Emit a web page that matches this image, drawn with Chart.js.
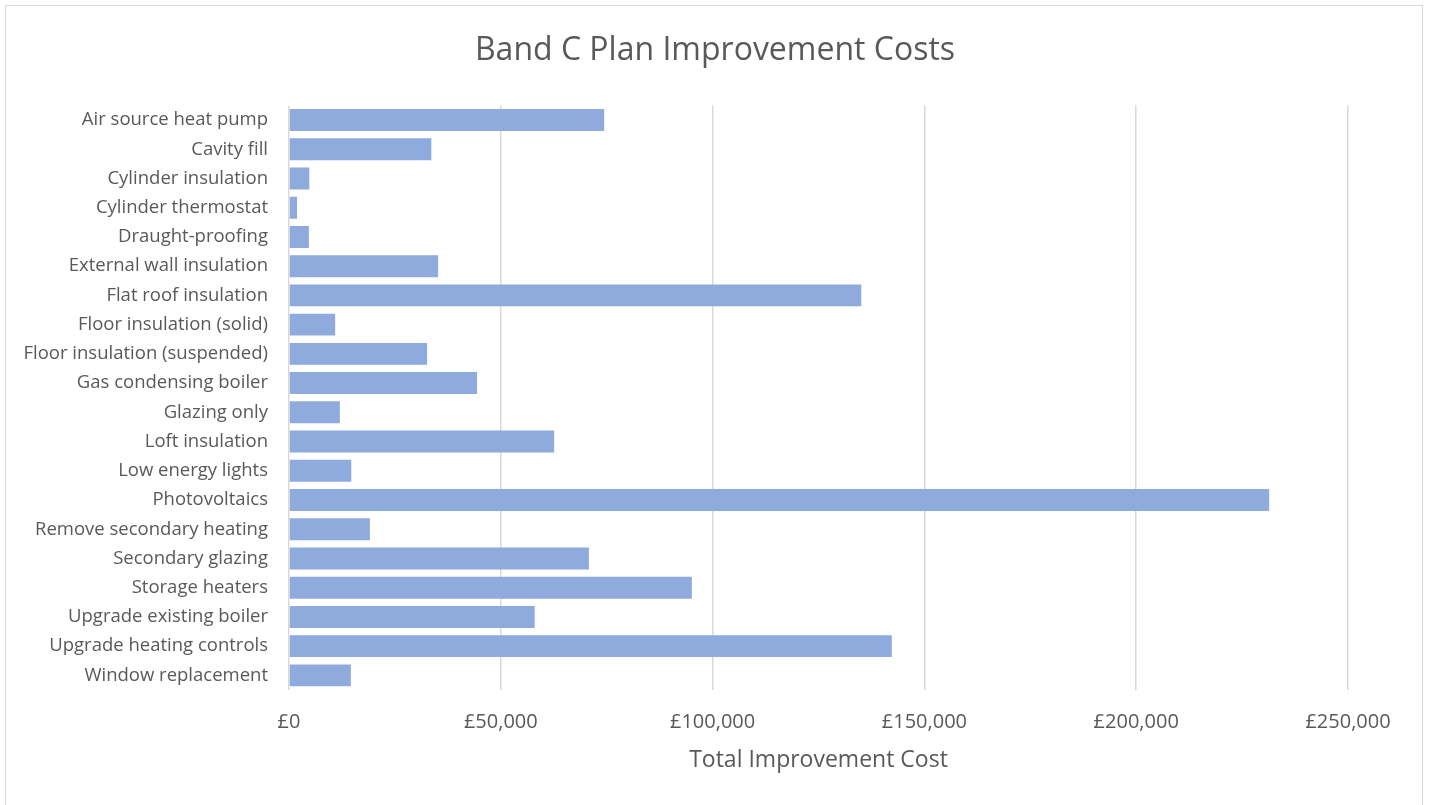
<!DOCTYPE html>
<html>
<head>
<meta charset="utf-8">
<title>Band C Plan Improvement Costs</title>
<script src="https://cdn.jsdelivr.net/npm/chart.js@4"></script>
<style>
  html, body { margin: 0; padding: 0; background: #fff; }
  #wrap { position: relative; width: 1430px; height: 805px; }
  #frame {
    position: absolute; left: 5px; top: 5px; width: 1416px; height: 810px;
    border: 1px solid #d9d9d9; pointer-events: none;
  }
</style>
</head>
<body>
<div id="wrap">
  <canvas id="costChart" width="1430" height="805"></canvas>
  <div id="frame"></div>
</div>
<script>
// Improvement measures and their total cost (GBP)
const measures = [
  'Air source heat pump', 'Cavity fill', 'Cylinder insulation', 'Cylinder thermostat',
  'Draught-proofing', 'External wall insulation', 'Flat roof insulation',
  'Floor insulation (solid)', 'Floor insulation (suspended)', 'Gas condensing boiler',
  'Glazing only', 'Loft insulation', 'Low energy lights', 'Photovoltaics',
  'Remove secondary heating', 'Secondary glazing', 'Storage heaters',
  'Upgrade existing boiler', 'Upgrade heating controls', 'Window replacement'
];
const totalCost = [
  74400, 33600, 4800, 1900, 4700, 35200, 135100, 10900, 32600, 44400,
  12000, 62600, 14700, 231400, 19100, 70800, 95100, 58000, 142300, 14600
];
const costTicks = [0, 50000, 100000, 150000, 200000, 250000];

const textGrey = '#595959';
const fontFamily = '"Open Sans", sans-serif';

// stretch the title box over the whole canvas so it is centred on the page,
// not on the area left over by the side padding
const centreTitle = {
  id: 'centreTitle',
  afterLayout(chart) {
    if (chart.titleBlock) {
      chart.titleBlock.left = 0;
      chart.titleBlock.right = chart.width;
      chart.titleBlock.width = chart.width;
    }
  }
};

var ctx = document.getElementById('costChart').getContext('2d');

var costChart = new Chart(ctx, {
  type: 'bar',
  data: {
    labels: measures,
    datasets: [{
      label: 'Total Improvement Cost',
      data: totalCost,
      backgroundColor: '#8faadc',
      borderWidth: 0,
      categoryPercentage: 1,
      barPercentage: 0.75
    }]
  },
  options: {
    indexAxis: 'y',
    responsive: false,
    animation: false,
    layout: { padding: { left: 0, right: 82, top: 2, bottom: 33.5 } },
    plugins: {
      legend: { display: false },
      tooltip: { enabled: false },
      title: {
        display: true,
        text: 'Band C Plan Improvement Costs',
        color: textGrey,
        font: { family: fontFamily, size: 32, weight: 'normal' },
        padding: { top: 30, bottom: 35 }
      }
    },
    scales: {
      x: {
        min: 0,
        max: 250000,
        afterBuildTicks: (axis) => { axis.ticks = costTicks.map(v => ({ value: v })); },
        afterFit: (axis) => { axis.height = 81.5; },
        border: { display: false },
        grid: { color: '#d9d9d9', lineWidth: 1.5, drawTicks: false },
        ticks: {
          color: textGrey,
          padding: 22,
          font: { family: fontFamily, size: 20, lineHeight: 1 },
          callback: (v) => '£' + Number(v).toLocaleString('en-GB')
        },
        title: {
          display: true,
          text: 'Total Improvement Cost',
          color: textGrey,
          font: { family: fontFamily, size: 23, lineHeight: 1 },
          padding: { top: 0, bottom: 0 }
        }
      },
      y: {
        afterFit: (axis) => { axis.width = 289; },
        border: { display: false },
        grid: { display: false, drawTicks: false },
        ticks: {
          color: textGrey,
          padding: 21,
          autoSkip: false,
          font: { family: fontFamily, size: 18.5 }
        }
      }
    }
  },
  plugins: [centreTitle]
});
</script>
</body>
</html>
